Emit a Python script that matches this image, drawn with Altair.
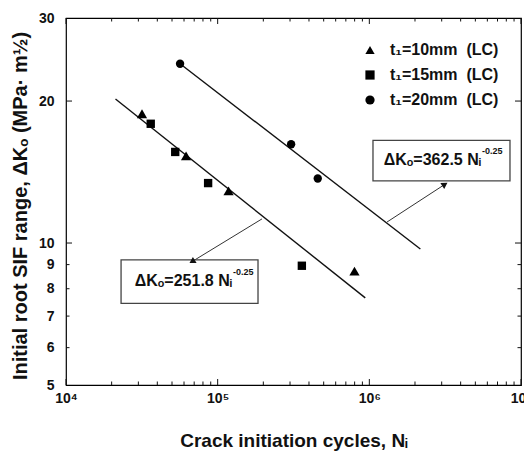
import altair as alt
import pandas as pd

FONT = "Liberation Sans"
INK = "#111111"

# ---------------- data ----------------
t10_N = [31700, 61900, 118000, 798000]
t10_K = [18.8, 15.3, 12.9, 8.72]
t15_N = [36200, 52500, 86500, 359000]
t15_K = [17.9, 15.6, 13.4, 8.95]
t20_N = [56500, 305000, 457000]
t20_K = [24.0, 16.2, 13.7]
series = ["t\u2081=10mm\u00a0 (LC)", "t\u2081=15mm\u00a0 (LC)", "t\u2081=20mm\u00a0 (LC)"]
shapes = ["triangle-up", "square", "circle"]

# fitted lines (start / end points)
fit_N1 = [21200, 56500]
fit_K1 = [20.2, 24.0]
fit_N2 = [940000, 2170000]
fit_K2 = [7.65, 9.71]

# axes
x_ticks = [1e4, 1e5, 1e6, 1e7]
x_tick_labels = ["10\u2074", "10\u2075", "10\u2076", "10\u2077"]
x_minor = [m * 10 ** e for e in (4, 5, 6) for m in range(2, 10)]
y_ticks = [5, 6, 7, 8, 9, 10, 20, 30]
y_major = [10, 20]
y_minor = [6, 7, 8, 9]

# equation annotations
eq_text = ["\u0394K\u2092=362.5 N\u1d62", "\u0394K\u2092=251.8 N\u1d62"]
eq_exp = ["-0.25", "-0.25"]
eq_N = [5.45e6, 124300]
eq_K = [15.0, 8.3]
box_N1 = [1.057e6, 23070]
box_N2 = [8.46e6, 184500]
box_K1 = [16.5, 9.21]
box_K2 = [13.55, 7.45]
arrow_N1 = [1.308e6, 196000]
arrow_K1 = [11.08, 11.25]
arrow_N2 = [3.107e6, 68770]
arrow_K2 = [13.28, 9.16]
arrow_angle = [57, 238.7]

# ---------------- chart ----------------
W, H = 455, 367
xs = alt.Scale(type="log", domain=[1e4, 1e7], nice=False)
ys = alt.Scale(type="log", domain=[5, 30], nice=False)

label_expr = "".join(
    f"abs(datum.value - {v:g}) < {v * 0.01:g} ? '{l}' : " for v, l in zip(x_ticks, x_tick_labels)
) + "''"

xaxis = alt.Axis(
    values=x_ticks, labelExpr=label_expr, ticks=False, domain=False, grid=False,
    labelFont=FONT, labelFontSize=14, labelFontWeight="bold", labelColor=INK,
    labelPadding=6, labelFlush=False, labelOverlap=False,
    titleFont=FONT, titleFontSize=19, titleFontWeight="bold", titleColor=INK,
    titleY=55, titleBaseline="middle",
)
yaxis = alt.Axis(
    values=y_ticks, format="d", ticks=False, domain=False, grid=False,
    labelFont=FONT, labelFontSize=14, labelFontWeight="bold", labelColor=INK,
    labelPadding=12, labelFlush=False, labelOverlap=False,
    titleFont=FONT, titleFontSize=20, titleFontWeight="bold", titleColor=INK,
    titleAngle=270, titleX=-46, titleY=H / 2 + 4, titleBaseline="middle", titleAlign="center",
)
XT = "Crack initiation cycles, N\u1d62"
YT = "Initial root SIF range, \u0394K\u2092 (MPa\u00b7 m\u00bd)"


def X(f):
    return alt.X(f, type="quantitative", scale=xs, axis=xaxis, title=XT)


def Y(f):
    return alt.Y(f, type="quantitative", scale=ys, axis=yaxis, title=YT)


pts = pd.DataFrame({
    "N": t10_N + t15_N + t20_N,
    "K": t10_K + t15_K + t20_K,
    "series": [series[0]] * len(t10_N) + [series[1]] * len(t15_N) + [series[2]] * len(t20_N),
})
fits = pd.DataFrame({"N": fit_N1, "K": fit_K1, "N2": fit_N2, "K2": fit_K2})
boxes = pd.DataFrame({"N": box_N1, "K": box_K1, "N2": box_N2, "K2": box_K2})
eqs = pd.DataFrame({"N": eq_N, "K": eq_K, "t": eq_text, "e": eq_exp})
arrows = pd.DataFrame({"N": arrow_N1, "K": arrow_K1, "N2": arrow_N2, "K2": arrow_K2, "ang": arrow_angle})

fit_layer = alt.Chart(fits).mark_rule(color=INK, strokeWidth=1.4).encode(
    x=X("N"), y=Y("K"), x2="N2", y2="K2")
arrow_layer = alt.Chart(arrows).mark_rule(color="#333333", strokeWidth=1).encode(
    x=X("N"), y=Y("K"), x2="N2", y2="K2")
head_layer = alt.Chart(arrows).mark_point(shape="triangle", filled=True, color="#111111",
                                         size=50, opacity=1).encode(
    x=X("N2"), y=Y("K2"), angle=alt.Angle("ang:Q", scale=None))
box_layer = alt.Chart(boxes).mark_rect(fill="white", stroke="#444444", strokeWidth=1.3).encode(
    x=X("N"), y=Y("K"), x2="N2", y2="K2")
eq_layer = alt.Chart(eqs).mark_text(align="right", baseline="middle", font=FONT, fontSize=16,
                                    fontWeight="bold", color=INK).encode(
    x=X("N"), y=Y("K"), text="t:N")
exp_layer = alt.Chart(eqs).mark_text(align="left", baseline="middle", font=FONT, fontSize=9,
                                     fontWeight="bold", color=INK, dx=1, dy=-9).encode(
    x=X("N"), y=Y("K"), text="e:N")

legend = alt.Legend(
    orient="none", legendX=296, legendY=24, title=None,
    labelFont=FONT, labelFontSize=16, labelFontWeight="bold", labelColor=INK,
    symbolFillColor="black", symbolStrokeColor="black", symbolSize=85,
    rowPadding=9, labelOffset=12, padding=0)
shape_enc = alt.Shape("series:N", scale=alt.Scale(domain=series, range=shapes), legend=legend)

point_layer = alt.Chart(pts).transform_filter(
    alt.datum.series != series[0]
).mark_point(filled=True, color="black", opacity=1, size=70).encode(
    x=X("N"), y=Y("K"), shape=shape_enc)
tri_layer = alt.Chart(pts).transform_filter(
    alt.datum.series == series[0]
).mark_point(filled=True, color="black", opacity=1, size=105).encode(
    x=X("N"), y=Y("K"), shape=shape_enc)

xmaj = pd.DataFrame({"N": x_ticks})
xmin = pd.DataFrame({"N": x_minor})
ymaj = pd.DataFrame({"K": y_major})
ymin = pd.DataFrame({"K": y_minor})

tick_layers = []
for df, L in ((xmaj, 6), (xmin, 3.5)):
    tick_layers.append(alt.Chart(df).mark_rule(color=INK, strokeWidth=1).encode(
        x=X("N"), y=alt.value(H), y2=alt.value(H - L)))
    tick_layers.append(alt.Chart(df).mark_rule(color=INK, strokeWidth=1).encode(
        x=X("N"), y=alt.value(0), y2=alt.value(L)))
for df, L in ((ymaj, 6), (ymin, 3.5)):
    tick_layers.append(alt.Chart(df).mark_rule(color=INK, strokeWidth=1).encode(
        y=Y("K"), x=alt.value(0), x2=alt.value(L)))
    tick_layers.append(alt.Chart(df).mark_rule(color=INK, strokeWidth=1).encode(
        y=Y("K"), x=alt.value(W), x2=alt.value(W - L)))

chart = alt.layer(
    fit_layer, arrow_layer, box_layer, eq_layer, exp_layer, head_layer,
    point_layer, tri_layer, *tick_layers
).properties(
    width=W, height=H,
    autosize=alt.AutoSizeParams(type="none"),
    padding={"left": 58, "top": 10, "right": 3, "bottom": 67},
).configure_view(stroke="black", strokeWidth=1.2)

chart.save("out.html", embed_options={"renderer": "svg", "actions": False})
